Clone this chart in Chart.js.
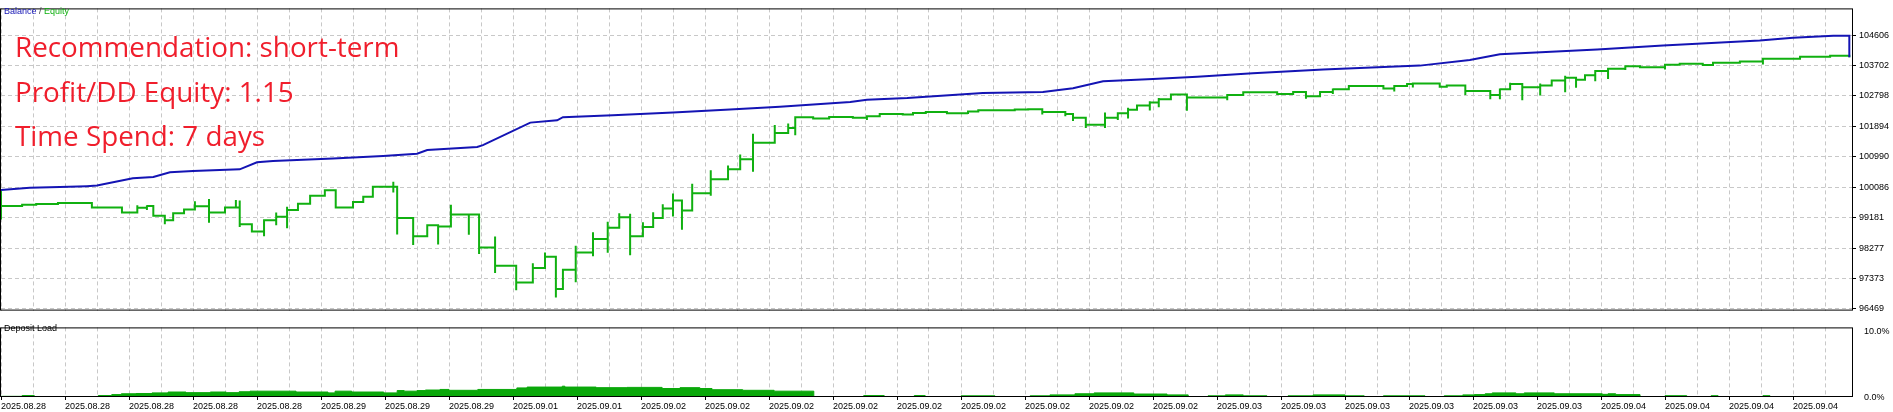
<!DOCTYPE html>
<html>
<head>
<meta charset="utf-8">
<title>Balance / Equity</title>
<script src="https://cdn.jsdelivr.net/npm/chart.js@4.4.1/dist/chart.umd.min.js"></script>
<style>
  html, body { margin: 0; padding: 0; background: #fff; }
  #wrap { position: relative; width: 1893px; height: 412px; overflow: hidden; background: #fff; }
  #mainCanvas { position: absolute; left: 0; top: 0; }
  #loadCanvas { position: absolute; left: 0; top: 319px; }
</style>
</head>
<body>
<div id="wrap">
  <canvas id="mainCanvas" width="1893" height="319"></canvas>
  <canvas id="loadCanvas" width="1893" height="93"></canvas>
</div>
<script>
// x axis: deal steps, one date label every 10 steps
var dateLabels = [
  '2025.08.28', '2025.08.28', '2025.08.28', '2025.08.28', '2025.08.28',
  '2025.08.29', '2025.08.29', '2025.08.29',
  '2025.09.01', '2025.09.01',
  '2025.09.02', '2025.09.02', '2025.09.02', '2025.09.02', '2025.09.02',
  '2025.09.02', '2025.09.02', '2025.09.02', '2025.09.02',
  '2025.09.03', '2025.09.03', '2025.09.03', '2025.09.03', '2025.09.03', '2025.09.03',
  '2025.09.04', '2025.09.04', '2025.09.04', '2025.09.04'
];
var balanceTicks = [96469, 97373, 98277, 99181, 100086, 100990, 101894, 102798, 103702, 104606];
var loadTicks = [0, 10];

var notes = ['Recommendation: short-term', 'Profit/DD Equity: 1.15', 'Time Spend: 7 days'];

// balance: [step, value]
var balance = [
  [0, 100005], [4.5, 100070], [9.2, 100090], [13.4, 100118], [15, 100135], [20.6, 100353],
  [23.8, 100390], [26.4, 100532], [30, 100572], [37.3, 100617], [40, 100827], [42.5, 100864],
  [51.9, 100940], [59.7, 101014], [65, 101082], [66.6, 101190], [74.4, 101280], [75.3, 101337],
  [82.7, 102006], [86.9, 102074], [87.8, 102168], [95.6, 102224], [105, 102309], [113.9, 102395],
  [121.7, 102480], [132.7, 102621], [135.3, 102687], [141.6, 102735], [153.4, 102885], [162.8, 102913],
  [167.5, 103027], [172.2, 103237], [180, 103302], [186.9, 103367], [195.6, 103472], [206.6, 103585],
  [221.7, 103699], [229.5, 103869], [234.2, 104039], [249.4, 104181], [259.7, 104294], [274.8, 104444],
  [280, 104529], [286.3, 104586], [288.8, 104586], [288.8, 103945]
];

// equity: [step, level, spike low, spike high]
var equity = [
  [0, 99531, 99126, 99985], [3.3, 99568], [5.5, 99588], [8.9, 99616], [14.2, 99483], [18.9, 99333],
  [21.3, 99474, null, 99551], [22.8, 99531, 99409, 99551], [23.8, 99239], [25.6, 99106, 98984],
  [26.9, 99313], [28.6, 99426], [30.3, 99523, null, 99673], [32.5, 99333, 99029, 99738], [35, 99483],
  [36.7, 99483, null, 99710], [37.3, 98984, 98907, 99693], [39.2, 98774], [41.1, 99106, 98632],
  [43, 99211, 98956, 99333], [44.7, 99409, 98870, 99503], [46.4, 99596], [48.3, 99834], [50.6, 99993],
  [52.3, 99483], [55, 99644], [56.6, 99806], [58.1, 100098], [61.3, 100098, 99928, 100248],
  [61.9, 99171, 98681], [64.4, 98632, 98369], [66.6, 98956], [68.3, 98916, 98388],
  [70.3, 99276, null, 99568], [73.1, 99276, 98672], [74.7, 98292, 98105], [77.2, 97753, 97538, 98624],
  [80.5, 97254, 97028], [83.1, 97688, null, 97830], [85, 98020, null, 98150], [86.7, 97064, 96809],
  [87.8, 97631], [89.8, 98150, 97263, 98349], [92.5, 98547, 98037, 98746], [94.8, 98879, 98142, 99058],
  [96.6, 99191, null, 99313], [98.3, 98632, 98065, 99296], [100.3, 98907, null, 99049],
  [101.9, 99171, null, 99341], [103.4, 99455, null, 99579], [105, 99693, 99219, 99900],
  [106.4, 99398, 98822], [108, 99908, null, 100192], [110.9, 100325, 99834, 100589],
  [113.6, 100617, null, 100730], [115.5, 100920, null, 101062], [117.5, 101411, 100543, 101677],
  [120.9, 101694, null, 101932], [123, 101847, null, 101978], [124.1, 102168, 101629],
  [126.9, 102131], [129.4, 102176], [133.1, 102148], [135.3, 102196, 102083], [137.3, 102261],
  [140.9, 102244, 102216], [142.5, 102290], [144.5, 102318], [147.8, 102281], [151.1, 102338, 102261],
  [152.7, 102375], [158.4, 102395], [160.5, 102403], [162.7, 102318, 102244], [166.3, 102261, 102196],
  [167.5, 102148, 102054], [169.5, 101941, 101847], [172.5, 102148, 101847, 102310],
  [174.5, 102281, 102083], [176.1, 102386, 102131, 102451], [177.5, 102517, 102358],
  [179.5, 102602, 102366, 102641], [180.9, 102698, 102460, 102735], [182.8, 102840],
  [185.3, 102755, 102358], [191.6, 102828, 102670], [194.1, 102905], [199.4, 102857], [201.9, 102913],
  [203.9, 102792, 102715], [206.1, 102913], [208.1, 102999, 102857, 103018], [210.6, 103095],
  [216, 103018], [217.7, 103095, 102933], [219.7, 103152], [220.6, 103169, 103047], [224.8, 103075],
  [225.9, 103112], [228.8, 102942, 102828], [232.7, 102828, 102698], [234.2, 102999, 102698, 103018],
  [235.8, 103152, null, 103188], [237.7, 103055, 102670], [240.5, 103112, 102811, 103169],
  [242.3, 103254], [244.4, 103339, 102905, 103395], [246.1, 103282, 103038], [247.5, 103415],
  [249.1, 103537, 103237], [251.1, 103605, 103302], [253.8, 103679, 103566], [256.1, 103651],
  [260, 103727, 103585], [262.3, 103755], [265.9, 103719], [267.5, 103784], [271.7, 103821],
  [275.3, 103906, 103736], [281.1, 103962], [285.8, 103991], [288.8, 103945]
];

// deposit load, percent: [step, value]
var depositLoad = [
  [0, 0.1], [3.3, 0.22], [5.2, 0.05], [15.2, 0.22], [17.3, 0.36], [18.8, 0.49], [21.1, 0.53],
  [23.6, 0.62], [26.1, 0.75], [28.9, 0.66], [32.7, 0.75], [35.2, 0.66], [37.2, 0.79], [38.9, 0.88],
  [46.1, 0.75], [51.1, 0.62], [52.2, 0.88], [54.8, 0.75], [59.8, 0.62], [61.9, 0.97], [63, 0.88],
  [65, 0.97], [66.3, 1.05], [68.6, 1.14], [70, 1.01], [74.5, 1.14], [80.6, 1.37], [82.2, 1.5],
  [87.7, 1.63], [88.1, 1.5], [93, 1.41], [97.8, 1.45], [103.3, 1.28], [106.1, 1.41], [109.2, 1.28],
  [111.1, 1.1], [115.9, 1.01], [120.8, 0.88], [127, 0.05], [134.8, 0.22], [138, 0.05], [142.7, 0.22],
  [144.4, 0.05], [150, 0.18], [155.3, 0.05], [160.8, 0.18], [163.9, 0.32], [167.8, 0.49],
  [170.8, 0.62], [177, 0.45], [182.2, 0.32], [185.5, 0.05], [188.6, 0.18], [191.3, 0.32],
  [194.1, 0.18], [197.8, 0.05], [201.1, 0.18], [205, 0.32], [210, 0.18], [213, 0.05], [216, 0.18],
  [222.5, 0.05], [225.5, 0.18], [228.4, 0.32], [230.2, 0.36], [231.9, 0.49], [233, 0.62],
  [236.7, 0.49], [238, 0.62], [242.7, 0.49], [250.2, 0.4], [251.1, 0.49], [252.3, 0.36],
  [256.1, 0.05], [260, 0.2], [263.4, 0.05], [267.2, 0.2], [268.3, 0.05], [275.3, 0.2],
  [276.4, 0.05], [288.8, 0.05]
];

var balanceColor = '#1414b4';
var equityColor = '#10b010';
var loadColor = '#0aa80a';
var gridColor = '#c8c8c8';
var axisFont = { family: 'Liberation Sans', size: 9 };
var xMax = 289.375;

var balancePoints = balance.map(function (r) { return { x: r[0], y: r[1] }; });
var equityPoints = [];
equity.forEach(function (r) {
  if (r[2] != null) equityPoints.push({ x: r[0], y: r[2] });
  if (r[3] != null) equityPoints.push({ x: r[0], y: r[3] });
  equityPoints.push({ x: r[0], y: r[1] });
});
var loadPoints = depositLoad.map(function (r) { return { x: r[0], y: r[1] }; });

var paneFrame = {
  id: 'paneFrame',
  afterDraw: function (chart) {
    var a = chart.chartArea, ctx = chart.ctx;
    ctx.save();
    ctx.strokeStyle = '#000';
    ctx.lineWidth = 1;
    ctx.strokeRect(a.left - 0.5, a.top + 0.5, a.right - a.left, a.bottom - a.top - 1);
    ctx.restore();
  }
};

var mainText = {
  id: 'mainText',
  afterDraw: function (chart) {
    var ctx = chart.ctx;
    ctx.save();
    // legend
    ctx.font = '9px "Liberation Sans"';
    ctx.textBaseline = 'alphabetic';
    var x = 4;
    ctx.fillStyle = balanceColor;
    ctx.fillText('Balance', x, 14);
    x += ctx.measureText('Balance').width;
    ctx.fillStyle = '#404040';
    ctx.fillText(' / ', x, 14);
    x += ctx.measureText(' / ').width;
    ctx.fillStyle = equityColor;
    ctx.fillText('Equity', x, 14);
    // notes
    ctx.font = '28px "Open Sans"';
    var size = 28 * 384 / ctx.measureText(notes[0]).width;
    ctx.font = size.toFixed(1) + 'px "Open Sans"';
    ctx.fillStyle = '#f01e2c';
    var baselines = [57, 101.5, 146];
    notes.forEach(function (t, i) { ctx.fillText(t, 15, baselines[i]); });
    ctx.restore();
  }
};

var loadText = {
  id: 'loadText',
  afterDraw: function (chart) {
    var ctx = chart.ctx;
    ctx.save();
    ctx.font = '9px "Liberation Sans"';
    ctx.fillStyle = '#000';
    ctx.fillText('Deposit Load', 4, 12);
    ctx.restore();
  }
};

new Chart(document.getElementById('mainCanvas'), {
  type: 'line',
  data: {
    datasets: [
      { label: 'Balance', data: balancePoints, borderColor: balanceColor, borderWidth: 2, pointRadius: 0, tension: 0 },
      { label: 'Equity', data: equityPoints, borderColor: equityColor, borderWidth: 2, pointRadius: 0, stepped: 'before' }
    ]
  },
  options: {
    responsive: false,
    animation: false,
    events: [],
    layout: { autoPadding: false, padding: { left: 1, top: 2, right: 0, bottom: 0 } },
    plugins: { legend: { display: false }, tooltip: { enabled: false } },
    scales: {
      x: {
        type: 'linear', min: 0, max: xMax,
        afterFit: function (s) { s.height = 0; },
        ticks: { display: false, stepSize: 5, includeBounds: false, autoSkip: false },
        grid: { color: gridColor, drawTicks: false },
        border: { display: false, dash: [4, 3] }
      },
      y: {
        position: 'right', min: 96421, max: 105399,
        afterFit: function (s) { s.width = 40; },
        afterBuildTicks: function (s) { s.ticks = balanceTicks.map(function (v) { return { value: v }; }); },
        ticks: { font: axisFont, color: '#000', padding: 3, autoSkip: false, callback: function (v) { return String(v); } },
        grid: { color: gridColor, tickLength: 3, tickColor: '#000' },
        border: { display: false, dash: [4, 3] }
      }
    }
  },
  plugins: [paneFrame, mainText]
});

new Chart(document.getElementById('loadCanvas'), {
  type: 'line',
  data: {
    datasets: [
      { label: 'Deposit Load', data: loadPoints, borderColor: loadColor, backgroundColor: loadColor, borderWidth: 1, pointRadius: 0, stepped: 'before', fill: 'origin' }
    ]
  },
  options: {
    responsive: false,
    animation: false,
    events: [],
    layout: { autoPadding: false, padding: { left: 1, top: 1, right: 0, bottom: 0 } },
    plugins: { legend: { display: false }, tooltip: { enabled: false } },
    scales: {
      x: {
        type: 'linear', min: 0, max: xMax,
        afterFit: function (s) { s.height = 15; },
        ticks: {
          stepSize: 5, includeBounds: false, autoSkip: false, maxRotation: 0, align: 'start', padding: 1,
          font: axisFont, color: '#000',
          callback: function (v) { return v % 10 === 0 ? dateLabels[v / 10] : ''; }
        },
        grid: {
          color: gridColor, tickLength: 3,
          tickColor: function (c) { return c.tick && c.tick.value % 10 === 0 ? '#000' : 'rgba(0,0,0,0)'; }
        },
        border: { display: false, dash: [4, 3] }
      },
      y: {
        position: 'right', min: 0, max: 10.5,
        afterFit: function (s) { s.width = 40; },
        afterBuildTicks: function (s) { s.ticks = loadTicks.map(function (v) { return { value: v }; }); },
        ticks: { font: axisFont, color: '#000', padding: 3, labelOffset: 1, callback: function (v) { return v.toFixed(1) + '%'; } },
        grid: { display: false },
        border: { display: false }
      }
    }
  },
  plugins: [paneFrame, loadText]
});
</script>
</body>
</html>
